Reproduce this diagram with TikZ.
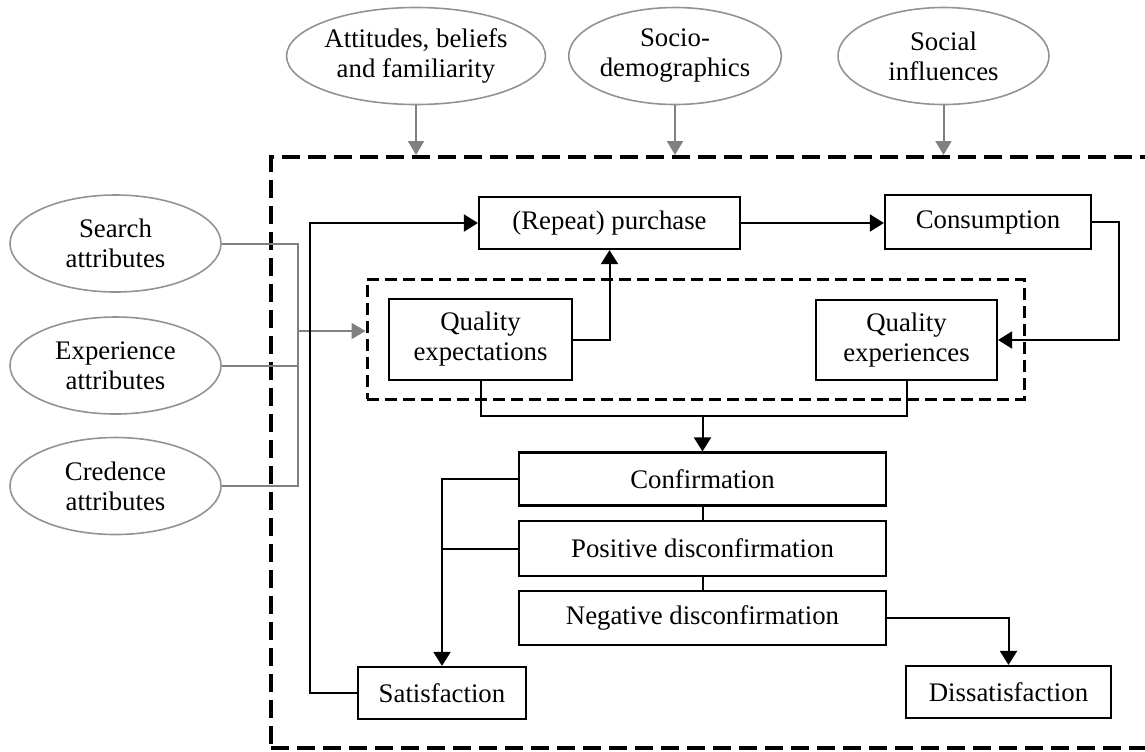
\documentclass[tikz,border=0pt]{standalone}
\usepackage{fontspec}
\setmainfont{Liberation Serif}
\usetikzlibrary{shapes, arrows.meta, positioning, calc}

\begin{document}
\begin{tikzpicture}[x=0.5pt, y=-0.5pt,
  every node/.style={font=\fontsize{13.4}{15}\selectfont, align=center, inner sep=0pt},
  box/.style={draw, line width=1.1pt, rectangle},
  oval/.style={draw=gray!85, line width=0.8pt, ellipse, minimum width=105.5pt, minimum height=48.5pt},
  arr/.style={line width=1pt, -{Triangle[length=7pt, width=8.5pt]}},
  link/.style={line width=1pt},
  grayline/.style={draw=gray, line width=1pt},
  grayarr/.style={grayline, -{Triangle[length=7pt, width=8pt]}},
  bigframe/.style={draw, line width=2pt, dash pattern=on 9pt off 4pt},
  smallframe/.style={draw, line width=1.5pt, dash pattern=on 6pt off 3pt}]

\useasboundingbox (0, 0) rectangle (1145, 751);

% frames
\node[bigframe, minimum width=444.5pt, minimum height=295.5pt] (frame) at (715.5, 452.5) {};
\node[smallframe, minimum width=328.5pt, minimum height=60pt] (inner) at (695.5, 339) {};

% outside factors
\node[oval] (att) at (416, 56) {Attitudes, beliefs\\and familiarity};
\node[oval] (socio) at (675, 56) {Socio-\\demographics};
\node[oval] (social) at (943.5, 56) {Social\\influences};
\node[oval] (search) at (115.5, 243.5) {Search\\attributes};
\node[oval] (experience) at (115.5, 365.5) {Experience\\attributes};
\node[oval] (credence) at (115.5, 486) {Credence\\attributes};

% process boxes
\node[box, minimum width=130.5pt, minimum height=26pt] (purchase) at (609.5, 223) {(Repeat) purchase};
\node[box, minimum width=103pt, minimum height=27pt] (consumption) at (988, 222) {Consumption};
\node[box, minimum width=91.5pt, minimum height=40.5pt] (qexpect) at (480.5, 339.5) {Quality\\expectations};
\node[box, minimum width=90.5pt, minimum height=40pt] (qexper) at (906.5, 340) {Quality\\experiences};
\node[box, minimum width=183.5pt, minimum height=26.5pt] (confirm) at (702.5, 479) {Confirmation};
\node[box, minimum width=183.5pt, minimum height=27.5pt] (posdis) at (702.5, 548.5) {Positive disconfirmation};
\node[box, minimum width=183.5pt, minimum height=27pt] (negdis) at (702.5, 618) {Negative disconfirmation};
\node[box, minimum width=84pt, minimum height=26pt] (satis) at (442, 693) {Satisfaction};
\node[box, minimum width=102.5pt, minimum height=26pt] (dissat) at (1008.5, 692) {Dissatisfaction};

\coordinate (hub) at (298, 331);
\coordinate (merge) at (702.5, 416);

% gray inputs
\draw[grayarr] (att.south) -- (att.south |- frame.north);
\draw[grayarr] (socio.south) -- (socio.south |- frame.north);
\draw[grayarr] (social.south) -- (social.south |- frame.north);
\draw[grayline] (search.east) -| (hub);
\draw[grayline] (credence.east) -| (hub);
\draw[grayline] (experience.east) -- (experience.east -| hub);
\draw[grayarr] (hub) -- (hub -| inner.west);

% main flow
\draw[arr] (purchase.east) -- (purchase.east -| consumption.west);
\draw[arr] (consumption.east) -- ++(27, 0) |- (qexper.east);
\draw[arr] (qexpect.east) -| (purchase.south);
\draw[link] (qexpect.south) |- (merge) -| (qexper.south);
\draw[arr] (merge) -- (confirm.north);
\draw[link] (confirm.south) -- (posdis.north);
\draw[link] (posdis.south) -- (negdis.north);
\draw[arr] (confirm.west) -| (satis.north);
\draw[link] (posdis.west) -- (posdis.west -| satis.north);
\draw[arr] (negdis.east) -| (dissat.north);
\draw[arr] (satis.west) -- ++(-47, 0) |- (purchase.west);

\end{tikzpicture}
\end{document}
